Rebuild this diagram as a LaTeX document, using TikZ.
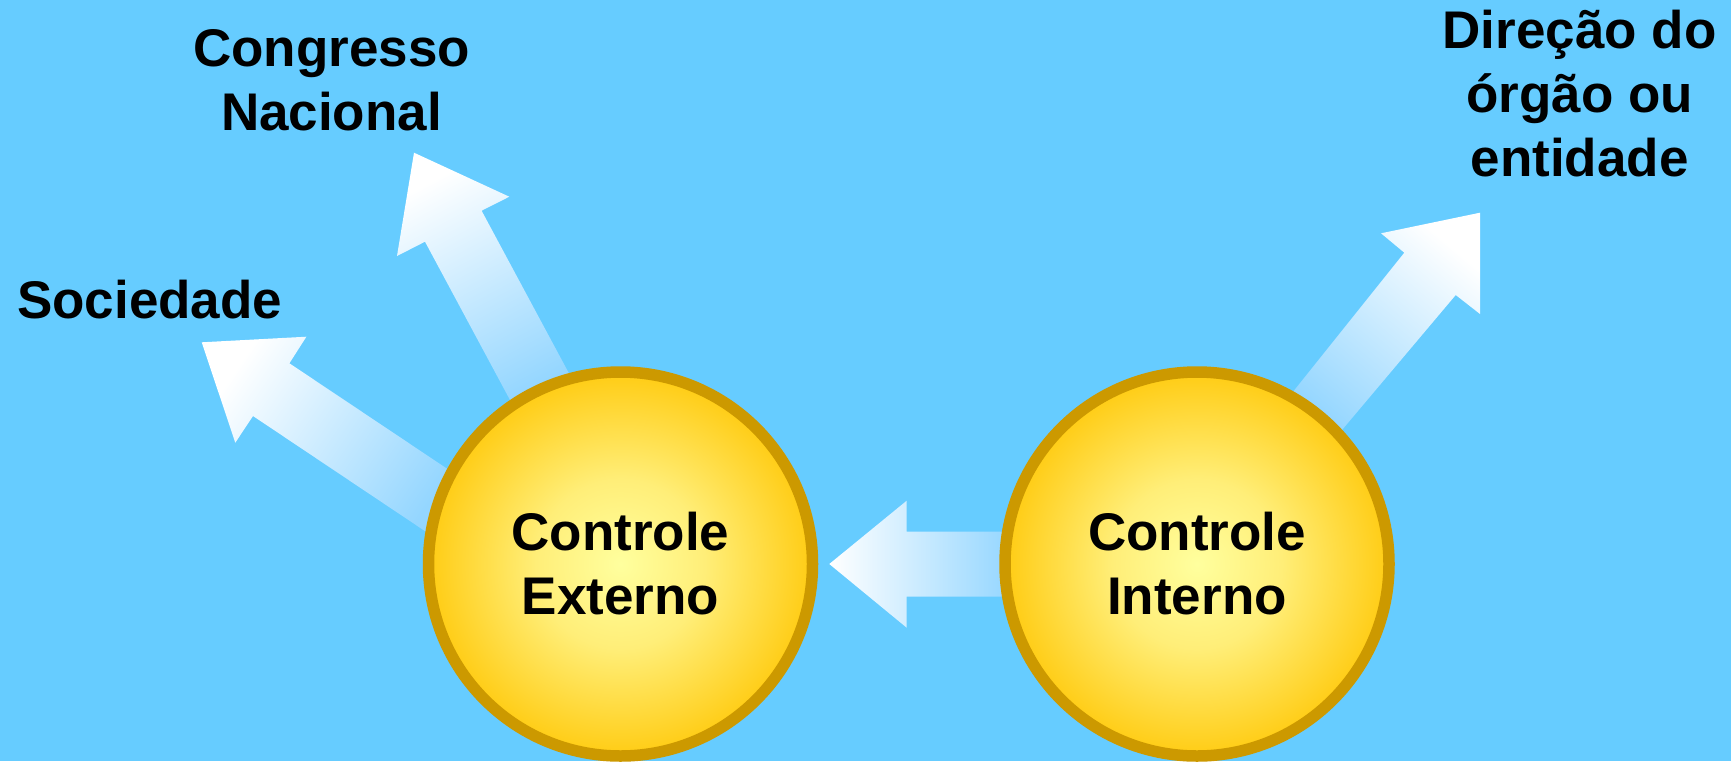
\documentclass[tikz,border=0pt]{standalone}
\usepackage{fontspec}
\setmainfont{Liberation Sans}
\usepackage{tikz}
\usetikzlibrary{positioning}

\definecolor{skyback}{RGB}{102,204,255}
\definecolor{ballrim}{RGB}{204,153,0}
\definecolor{ballin}{RGB}{255,255,158}
\definecolor{ballmid}{RGB}{255,238,120}
\definecolor{ballout}{RGB}{255,204,20}
\definecolor{arrowend}{RGB}{148,214,255}
\pgfdeclarehorizontalshading{arrowfade}{100bp}{color(0bp)=(arrowend); color(25bp)=(arrowend); color(75bp)=(white); color(100bp)=(white)}
\pgfdeclareradialshading{ballfade}{\pgfpoint{0bp}{0bp}}{color(0bp)=(ballin); color(11bp)=(ballmid); color(25bp)=(ballout); color(50bp)=(ballout)}

\tikzset{
  ball/.style={circle, draw=ballrim, line width=11.5pt, minimum size=384pt,
    shade, shading=ballfade, align=center,
    font=\fontsize{53}{64}\selectfont\bfseries},
  tag/.style={align=center, inner sep=0pt, anchor=base,
    font=\fontsize{53}{64}\selectfont\bfseries},
  blockarrow/.style={shading=arrowfade, shading angle=#1}
}

\begin{document}
\begin{tikzpicture}[x=1pt, y=-1pt]
      \useasboundingbox (0,0) rectangle (1731,761);
      \clip (0,0) rectangle (1731,761);
      \fill[skyback] (0,0) rectangle (1731,761);
      \shade[blockarrow=146] (201.7,342.3) -- (306.4,336.7) -- (289.4,363.3) -- (459.8,477.2)
        -- (438,539.8) -- (253,416) -- (235.3,442.7) -- cycle;
      \shade[blockarrow=118] (414,152.7) -- (509.3,196.7) -- (481.6,210.7) -- (572.5,379.9)
        -- (517.1,413.2) -- (425,241.7) -- (397,256) -- cycle;
      \shade[blockarrow=50] (1480,212.7) -- (1480,314) -- (1455.7,295) -- (1332.2,441.6)
        -- (1283.8,403.3) -- (1404.3,252.7) -- (1381,233.3) -- cycle;
      \shade[blockarrow=180] (829.3,564) -- (906.7,500.7) -- (906.7,531.7) -- (1012,531.7)
        -- (1012,596.7) -- (906.7,596.7) -- (906.7,627.7) -- cycle;
      \foreach \x/\n/\t in {620.5/externo/Externo, 1197/interno/Interno} {%
        \node[ball] (\n) at (\x,564) {Controle\\\t};
      }
      \node[tag] (congresso) at (331.5,130) {Congresso\\Nacional};
      \node[tag] (sociedade) at (149.7,318.5) {Sociedade};
      \node[tag] (direcao) at (1579.5,176.7) {Direção do\\órgão ou\\entidade};
    \end{tikzpicture}
\end{document}
